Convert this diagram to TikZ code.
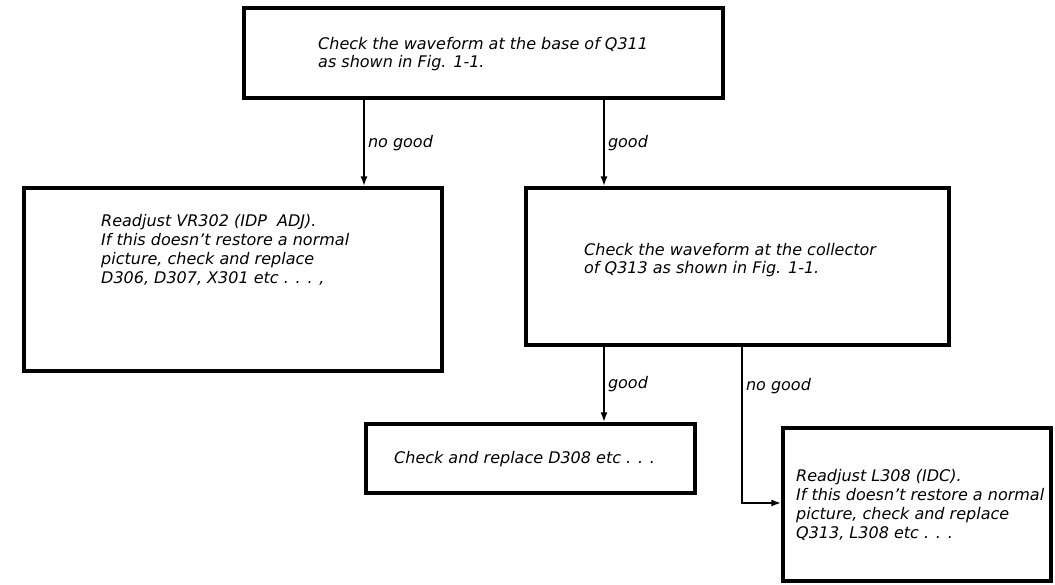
\documentclass[tikz,border=0pt]{standalone}
\usepackage{fontspec}
\setmainfont{DejaVu Sans}
\usetikzlibrary{arrows.meta}
\tikzset{
  box/.style={draw, line width=3.2pt, inner sep=0pt},
  txt/.style={align=left, inner sep=0pt, anchor=west, font=\itshape\fontsize{16}{18.8}\selectfont},
  lbl/.style={right, inner sep=3pt, font=\itshape\fontsize{16}{18.8}\selectfont},
  conn/.style={line width=2pt, -{Latex[length=10pt,width=7pt]}},
}
\begin{document}
\begin{tikzpicture}[x=1pt, y=-1pt]
\useasboundingbox (0,0) rectangle (1055,584);
\node[box, minimum width=479pt, minimum height=90pt] (base) at (483.5,53) {};
\node[box, minimum width=418pt, minimum height=183pt] (vr) at (233,279.5) {};
\node[box, minimum width=423pt, minimum height=157pt] (coll) at (737.5,266.5) {};
\node[box, minimum width=329pt, minimum height=69pt] (diode) at (530.5,458.5) {};
\node[box, minimum width=268pt, minimum height=153pt] (coil) at (917,504.5) {};
\node[txt] (baset) at (318,54) {Check the waveform at the base of Q311\\as shown in Fig. 1-1.};
\node[txt] (vrt) at (101,250) {Readjust VR302 (IDP\ \ ADJ).\\If this doesn’t restore a normal\\picture, check and replace\\D306, D307, X301 etc . . . ,};
\node[txt] (collt) at (584,260) {Check the waveform at the collector\\of Q313 as shown in Fig. 1-1.};
\node[txt] (diodet) at (394,459) {Check and replace D308 etc . . .};
\node[txt] (coilt) at (796,505) {Readjust L308 (IDC).\\If this doesn’t restore a normal\\picture, check and replace\\Q313, L308 etc . . .};
\coordinate (ng1) at (364,0);
\coordinate (g1) at (604,0);
\coordinate (turn) at (742,503);
\draw[conn] (base.south -| ng1) -- node[lbl] {no good} (vr.north -| ng1);
\draw[conn] (base.south -| g1) -- node[lbl] {good} (coll.north -| g1);
\draw[conn] (coll.south -| g1) -- node[lbl] {good} (diode.north -| g1);
\draw[conn] (coll.south -| turn) -- node[lbl, pos=0.25] {no good} (turn) -- (coil.west |- turn);
\end{tikzpicture}
\end{document}
